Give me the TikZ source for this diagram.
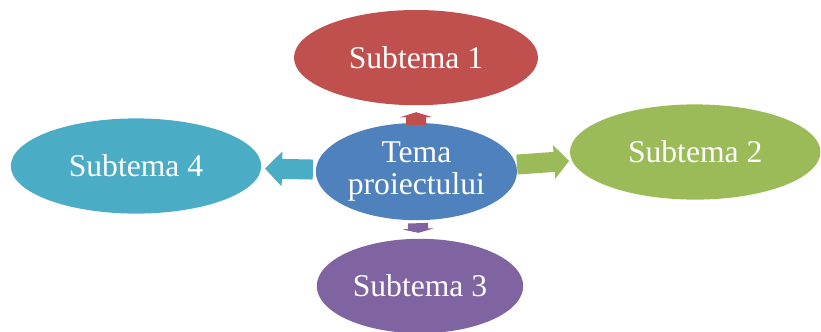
\documentclass[tikz,border=0pt]{standalone}
\usepackage{fontspec}
\setmainfont{Liberation Serif}
\usetikzlibrary{shapes.geometric,arrows.meta}

\definecolor{temablue}{HTML}{4F81BD}
\definecolor{subred}{HTML}{C0504D}
\definecolor{subgreen}{HTML}{9BBB59}
\definecolor{subpurple}{HTML}{8064A2}
\definecolor{subteal}{HTML}{4BACC6}

\begin{document}
\begin{tikzpicture}[
    bubble/.style={ellipse, inner sep=0pt, outer sep=0pt, text=white, align=center,
        font=\fontsize{22.5}{23}\selectfont},
    blockarrow/.style={line width=0.5cm}
  ]
    \useasboundingbox (0,0) rectangle (20.525,-8.275);

    % --- Central topic ---
    \node[bubble, fill=temablue, minimum width=5.03cm, minimum height=2.43cm] (tema) at (10.41,-4.29) {Tema\\proiectului};

    % --- Subtopics ---
    \node[bubble, fill=subred, minimum width=6.1cm, minimum height=2.38cm] (s1) at (10.40,-1.44) {Subtema 1};
    \node[bubble, fill=subgreen, minimum width=6.26cm, minimum height=2.38cm] (s2) at (17.38,-3.80) {Subtema 2};
    \node[bubble, fill=subpurple, minimum width=5.16cm, minimum height=2.36cm] (s3) at (10.50,-7.15) {Subtema 3};
    \node[bubble, fill=subteal, minimum width=6.26cm, minimum height=2.38cm] (s4) at (3.40,-4.15) {Subtema 4};

    % --- Block arrows (centre to subtopics) ---
    \draw[blockarrow, subred, shorten <=-0.05cm, shorten >=0.175cm,
        -{Triangle[length=0.125cm, width=0.8cm]}] (tema) -- (s1);
    \draw[blockarrow, subgreen, shorten <=0.025cm, shorten >=0.075cm,
        -{Triangle[length=0.375cm, width=0.825cm]}] (tema) -- (s2);
    \draw[blockarrow, subpurple, shorten <=0.075cm, shorten >=0.15cm,
        -{Triangle[length=0.1cm, width=0.8cm]}] (tema) -- (s3);
    \draw[blockarrow, subteal, shorten <=0.075cm, shorten >=0.1cm,
        -{Triangle[length=0.425cm, width=0.85cm]}] (tema) -- (s4);
\end{tikzpicture}
\end{document}
